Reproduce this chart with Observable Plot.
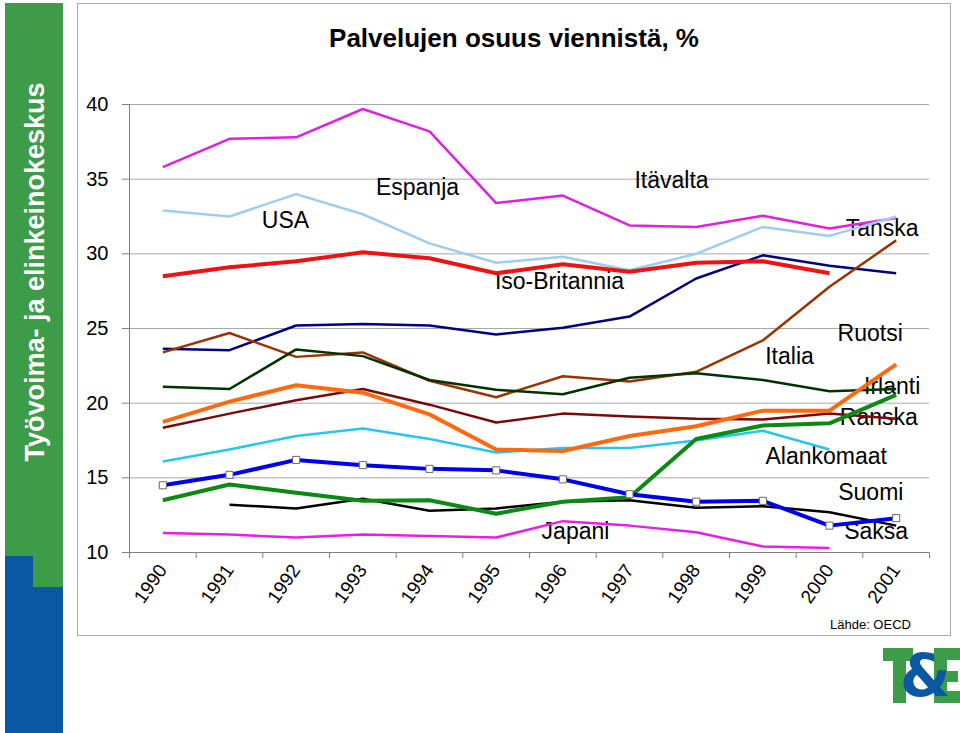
<!DOCTYPE html>
<html>
<head>
<meta charset="utf-8">
<script src="https://cdn.jsdelivr.net/npm/d3@7"></script>
<script src="https://cdn.jsdelivr.net/npm/@observablehq/plot@0.6"></script>
<style>
  html, body { margin: 0; padding: 0; }
  body { width: 960px; height: 733px; position: relative; overflow: hidden; background: #fff;
         font-family: "Liberation Sans", Arial, Helvetica, sans-serif; color: #000; }
  .side-green { position: absolute; left: 5px; top: 3px; width: 58px; height: 584px; background: #3d9c48; }
  .side-blue1 { position: absolute; left: 5px; top: 556px; width: 28px; height: 177px; background: #0b58a2; }
  .side-blue2 { position: absolute; left: 5px; top: 587px; width: 58px; height: 146px; background: #0b58a2; }
  .side-text { position: absolute; left: 35px; top: 272px; transform: translate(-50%, -50%) rotate(-90deg);
               color: #fff; font-weight: bold; font-size: 27px; white-space: nowrap; line-height: 1; }
  .frame { position: absolute; left: 77px; top: 3px; width: 872px; height: 631px; border: 1px solid #a8a8a8; box-sizing: content-box; }
  .title { position: absolute; left: 77px; width: 874px; top: 22px; text-align: center; font-weight: bold; font-size: 26px; line-height: 32px; }
  #chart { position: absolute; left: 78px; top: 60px; }
  .source { position: absolute; left: 830px; top: 617px; font-size: 13px; line-height: 16px; }
  .logo div { position: absolute; }
</style>
</head>
<body>
<div class="side-green"></div>
<div class="side-blue1"></div>
<div class="side-blue2"></div>
<div class="side-text">Työvoima- ja elinkeinokeskus</div>
<div class="frame"></div>
<div class="title">Palvelujen osuus viennistä, %</div>
<div id="chart"></div>
<div class="source">Lähde: OECD</div>
<div class="logo">
  <div style="left:883px;top:648px;width:30px;height:13px;background:#3d9c48"></div>
  <div style="left:893px;top:648px;width:13px;height:55px;background:#3d9c48"></div>
  <div style="left:934px;top:648px;width:13px;height:55px;background:#3d9c48"></div>
  <div style="left:934px;top:648px;width:26px;height:12px;background:#3d9c48"></div>
  <div style="left:934px;top:671px;width:24px;height:11px;background:#3d9c48"></div>
  <div style="left:934px;top:691px;width:26px;height:12px;background:#3d9c48"></div>
  <div style="left:900px;top:646px;width:40px;height:60px;color:#0b58a2;font-weight:900;font-size:58px;line-height:60px;font-family:'DejaVu Sans',sans-serif;text-align:center;">&amp;</div>
</div>
<script>
// ---- Data ----
const years = [1990, 1991, 1992, 1993, 1994, 1995, 1996, 1997, 1998, 1999, 2000, 2001];

const itavalta     = [35.8, 37.7, 37.8, 39.7, 38.2, 33.4, 33.9, 31.9, 31.8, 32.55, 31.7, 32.4];
const espanja      = [32.9, 32.5, 34.0, 32.65, 30.7, 29.4, 29.8, 28.9, 30.0, 31.8, 31.2, 32.5];
const usa          = [28.5, 29.1, 29.5, 30.1, 29.7, 28.7, 29.3, 28.8, 29.4, 29.5, 28.7, null];
const isoBritannia = [23.65, 23.55, 25.2, 25.3, 25.2, 24.6, 25.05, 25.8, 28.35, 29.9, 29.2, 28.7];
const tanska       = [23.4, 24.7, 23.1, 23.4, 21.5, 20.4, 21.8, 21.45, 22.1, 24.2, 27.8, 30.9];
const italia       = [21.1, 20.95, 23.6, 23.15, 21.55, 20.9, 20.6, 21.7, 22.0, 21.55, 20.8, 20.95];
const ruotsi       = [18.75, 20.1, 21.2, 20.7, 19.25, 16.9, 16.8, 17.8, 18.45, 19.5, 19.5, 22.6];
const ranska       = [18.35, 19.3, 20.2, 20.95, 19.9, 18.7, 19.3, 19.1, 18.95, 18.9, 19.3, 18.95];
const alankomaat   = [16.1, 16.9, 17.8, 18.3, 17.6, 16.7, 17.0, 17.0, 17.5, 18.15, 16.9, null];
const suomi        = [14.5, 15.2, 16.2, 15.85, 15.6, 15.5, 14.9, 13.9, 13.4, 13.46, 11.8, 12.3];
const irlanti      = [13.5, 14.55, 14.0, 13.46, 13.5, 12.6, 13.4, 13.7, 17.6, 18.5, 18.65, 20.55];
const saksa        = [null, 13.2, 12.95, 13.6, 12.8, 12.95, 13.4, 13.5, 13.0, 13.1, 12.7, 11.8];
const japani       = [11.3, 11.2, 11.0, 11.2, 11.1, 11.0, 12.1, 11.8, 11.35, 10.4, 10.3, null];

const yTicks = [10, 15, 20, 25, 30, 35, 40];

// in-chart label texts and their anchor positions (year, %)
const labelNames  = ["Espanja", "USA", "Itävalta", "Tanska", "Iso-Britannia", "Ruotsi", "Italia", "Irlanti", "Ranska", "Alankomaat", "Suomi", "Saksa", "Japani"];
const labelYears  = [1993.82, 1991.84, 1997.63, 2000.79, 1995.95, 2000.61, 1999.40, 2000.94, 2000.74, 1999.95, 2000.62, 2000.70, 1996.19];
const labelValues = [34.41, 32.2, 34.88, 31.66, 28.11, 24.63, 23.09, 21.14, 19.0, 16.39, 13.98, 11.37, 11.37];

// ---- Styles ----
const series = [
  { name: "Itävalta",      values: itavalta,     color: "#e01fe0", width: 2.5 },
  { name: "Espanja",       values: espanja,      color: "#9fcdef", width: 2.5 },
  { name: "Iso-Britannia", values: isoBritannia, color: "#000080", width: 2.5 },
  { name: "Tanska",        values: tanska,       color: "#993300", width: 2.5 },
  { name: "Italia",        values: italia,       color: "#003300", width: 2.5 },
  { name: "Ranska",        values: ranska,       color: "#7a0a0a", width: 2.5 },
  { name: "Alankomaat",    values: alankomaat,   color: "#26c6f0", width: 2.5 },
  { name: "Saksa",         values: saksa,        color: "#000000", width: 2.5 },
  { name: "Japani",        values: japani,       color: "#e81ee8", width: 2.5 },
  { name: "Ruotsi",        values: ruotsi,       color: "#ff6a10", width: 4 },
  { name: "Irlanti",       values: irlanti,      color: "#0a8a14", width: 4 },
  { name: "USA",           values: usa,          color: "#ee1212", width: 4 },
  { name: "Suomi",         values: suomi,        color: "#0000ee", width: 4 }
];

const rowsOf = s => years.map((year, i) => ({ country: s.name, year, value: s.values[i] }));
const labels = labelNames.map((name, i) => ({ name, year: labelYears[i], value: labelValues[i] }));
const boundaries = d3.range(years.length + 1).map(i => years[0] - 0.5 + i);

const lineMarks = series.map(s =>
  Plot.line(rowsOf(s), { x: "year", y: "value", stroke: s.color, strokeWidth: s.width, strokeLinejoin: "round", strokeLinecap: "butt" })
);

const chart = Plot.plot({
  width: 870,
  height: 570,
  marginLeft: 51,
  marginRight: 19,
  marginTop: 44,
  marginBottom: 78,
  style: { background: "transparent", fontFamily: "'Liberation Sans', Arial, sans-serif", color: "#000", overflow: "visible" },
  x: { domain: [boundaries[0], boundaries[boundaries.length - 1]] },
  y: { domain: [10, 40] },
  marks: [
    Plot.gridY(yTicks, { stroke: "#a8a8a8", strokeOpacity: 1, strokeWidth: 1 }),
    Plot.axisY(yTicks, { tickSize: 7, tickPadding: 14, fontSize: 20, stroke: "#808080", fill: "#000", label: null, tickFormat: d => String(d) }),
    Plot.axisX(boundaries, { tickSize: 6, stroke: "#808080", tickFormat: () => "", label: null }),
    Plot.axisX(years, { tickSize: 0, tickRotate: -55, tickPadding: 14, fontSize: 19, fill: "#000", tickFormat: d => String(d), label: null }),
    Plot.ruleX([boundaries[0]], { stroke: "#808080", strokeWidth: 1 }),
    Plot.ruleY([10], { stroke: "#808080", strokeWidth: 1 }),
    Plot.text(labels, { x: "year", y: "value", text: "name", fontSize: 23, fill: "#000", textAnchor: "middle", lineAnchor: "middle" }),
    ...lineMarks,
    Plot.dot(rowsOf(series.find(s => s.name === "Suomi")), { x: "year", y: "value", symbol: "square", r: 4, fill: "#fff", stroke: "#666", strokeWidth: 1 })
  ]
});
document.getElementById("chart").appendChild(chart);
</script>
</body>
</html>
